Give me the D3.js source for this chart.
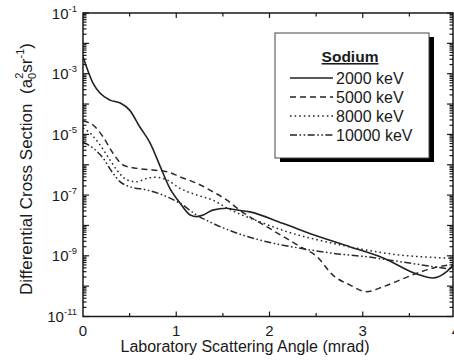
<!DOCTYPE html>
<html>
<head>
<meta charset="utf-8">
<script src="https://cdn.jsdelivr.net/npm/d3@7"></script>
<style>
  html, body { margin: 0; padding: 0; background: #fff; }
  svg { display: block; font-family: "Liberation Sans", Arial, sans-serif; }
  text { white-space: pre; }
</style>
</head>
<body>
<svg id="chart" width="454" height="362"></svg>
<script>
// ---- Data ----
const seriesNames = ["2000 keV", "5000 keV", "8000 keV", "10000 keV"];
const legendTitle = "Sodium";

const x2000 = [0, 0.107, 0.182, 0.29, 0.40, 0.50, 0.61, 0.72, 0.83, 0.93, 1.04, 1.15, 1.22, 1.29, 1.39, 1.54, 1.60, 1.79, 2.14, 2.51, 2.86, 3.22, 3.58, 3.75, 3.90, 4.0];
const y2000 = [3.6e-3, 4.9e-4, 2.3e-4, 1.35e-4, 1.08e-4, 6.3e-5, 1.75e-5, 5.2e-6, 8.5e-7, 1.7e-7, 5.5e-8, 2.2e-8, 1.95e-8, 2.2e-8, 3.2e-8, 3.7e-8, 3.4e-8, 2.8e-8, 1.18e-8, 4.5e-9, 2.0e-9, 8.5e-10, 2.5e-10, 1.85e-10, 3.0e-10, 6.3e-10];

const x5000 = [0, 0.107, 0.214, 0.32, 0.43, 0.58, 0.75, 0.90, 1.04, 1.22, 1.39, 1.54, 1.68, 1.97, 2.33, 2.51, 2.68, 2.86, 3.04, 3.22, 3.40, 3.58, 3.75, 4.0];
const y5000 = [2.75e-5, 2.04e-5, 8.4e-6, 2.44e-6, 9.8e-7, 7.6e-7, 6.7e-7, 5.9e-7, 4.0e-7, 2.45e-7, 1.3e-7, 6.9e-8, 3.2e-8, 9.1e-9, 2.0e-9, 9.3e-10, 2.3e-10, 1.1e-10, 6.6e-11, 9.6e-11, 1.6e-10, 2.65e-10, 3.9e-10, 5.4e-10];

const x8000 = [0, 0.075, 0.182, 0.29, 0.364, 0.472, 0.58, 0.686, 0.79, 0.90, 1.04, 1.22, 1.39, 1.55, 1.90, 2.19, 2.68, 3.04, 3.40, 3.75, 4.0];
const y8000 = [1.62e-5, 1.11e-5, 4.5e-6, 1.43e-6, 6.7e-7, 3.15e-7, 2.77e-7, 3.57e-7, 3.86e-7, 3.15e-7, 1.67e-7, 1.0e-7, 6.9e-8, 3.67e-8, 1.3e-8, 6.2e-9, 2.58e-9, 1.55e-9, 1.06e-9, 8.9e-10, 8.2e-10];

const x10000 = [0, 0.107, 0.214, 0.32, 0.397, 0.504, 0.686, 0.857, 1.04, 1.22, 1.39, 1.61, 1.97, 2.33, 2.68, 3.04, 3.40, 3.75, 4.0];
const y10000 = [5.6e-6, 3.56e-6, 1.67e-6, 5.35e-7, 2.77e-7, 1.89e-7, 1.47e-7, 1.0e-7, 5.4e-8, 2.2e-8, 1.18e-8, 6.2e-9, 2.9e-9, 1.77e-9, 1.21e-9, 9.3e-10, 6.4e-10, 4.4e-10, 3.4e-10];

const xTickValues = [0, 1, 2, 3, 4];
const xTickLabels = ["0", "1", "2", "3", "4"];
const yLabelExponents = [-1, -3, -5, -7, -9, -11];

// ---- Build series ----
const xs = [x2000, x5000, x8000, x10000];
const ys = [y2000, y5000, y8000, y10000];
const series = seriesNames.map((name, i) => ({
  name, points: xs[i].map((xv, j) => ({ x: xv, y: ys[i][j] }))
}));
const dashes = [null, "6,4", "1.6,3", "7,2.5,1.6,2.5,1.6,2.5"];

// ---- Layout ----
const svg = d3.select("#chart");
const mLeft = 83, mTop = 13, mBottom = 316.5, rightScale = 456, rightFrame = 453;
const x = d3.scaleLinear().domain([0, 4]).range([mLeft, rightScale]);
const y = d3.scaleLog().domain([1e-11, 1e-1]).range([mBottom, mTop]);
const ink = "#1a1a1a";

svg.append("defs").append("clipPath").attr("id", "clip")
  .append("rect").attr("x", mLeft).attr("y", mTop).attr("width", rightFrame - mLeft).attr("height", mBottom - mTop);

// ---- Curves ----
const line = d3.line().x(d => x(d.x)).y(d => y(d.y)).curve(d3.curveMonotoneX);
svg.append("g").attr("clip-path", "url(#clip)")
  .selectAll("path").data(series).join("path")
  .attr("d", d => line(d.points))
  .attr("fill", "none")
  .attr("stroke", (d, i) => i === 0 ? "#222" : "#2a2a2a")
  .attr("stroke-width", (d, i) => i === 0 ? 1.6 : 1.5)
  .attr("stroke-dasharray", (d, i) => dashes[i]);

// ---- Frame ----
svg.append("path")
  .attr("d", `M${mLeft},${mTop}H${rightFrame}V${mBottom}H${mLeft}Z`)
  .attr("fill", "none").attr("stroke", ink).attr("stroke-width", 1.5);

// ---- Ticks ----
const tickG = svg.append("g").attr("stroke", ink).attr("stroke-width", 1.2);
for (let e = -11; e <= -1; e++) {
  for (let m = 1; m <= 9; m++) {
    const v = m * Math.pow(10, e);
    if (v > 1e-1 * 1.0001) continue;
    const yy = y(v);
    const len = m === 1 ? 6 : 3.5;
    tickG.append("line").attr("x1", mLeft).attr("x2", mLeft + len).attr("y1", yy).attr("y2", yy);
    tickG.append("line").attr("x1", rightFrame).attr("x2", rightFrame - len).attr("y1", yy).attr("y2", yy);
  }
}
d3.range(0.5, 4, 0.5).forEach(v => {
  const xx = x(v);
  const len = Number.isInteger(v) ? 5 : 3.5;
  tickG.append("line").attr("x1", xx).attr("x2", xx).attr("y1", mBottom).attr("y2", mBottom - len);
  tickG.append("line").attr("x1", xx).attr("x2", xx).attr("y1", mTop).attr("y2", mTop + len);
});

// ---- Tick labels ----
svg.append("g").selectAll("text").data(xTickValues).join("text")
  .attr("x", d => x(d)).attr("y", 336)
  .attr("text-anchor", "middle").attr("font-size", 15).attr("fill", ink)
  .text((d, i) => xTickLabels[i]);

const yl = svg.append("g").attr("fill", ink);
yLabelExponents.forEach(e => {
  const t = yl.append("text").attr("x", 77).attr("y", y(Math.pow(10, e)) + 5.5)
    .attr("text-anchor", "end").attr("font-size", 15);
  t.append("tspan").text("10");
  t.append("tspan").attr("dy", -7).attr("font-size", 9.5).text(String(e));
});

// ---- Axis titles ----
svg.append("text").attr("x", 245).attr("y", 352)
  .attr("text-anchor", "middle").attr("font-size", 16).attr("fill", ink)
  .text("Laboratory Scattering Angle (mrad)");

const yt = svg.append("text").attr("transform", "translate(32,169) rotate(-90)")
  .attr("text-anchor", "middle").attr("font-size", 17).attr("fill", ink);
yt.append("tspan").text("Differential Cross Section  (a");
yt.append("tspan").attr("dy", 4).attr("font-size", 11).text("0");
yt.append("tspan").attr("dx", -6).attr("dy", -13).attr("font-size", 11).text("2");
yt.append("tspan").attr("dy", 9).text("sr");
yt.append("tspan").attr("dy", -8).attr("font-size", 11).text("-1");
yt.append("tspan").attr("dy", 8).text(")");

// ---- Legend ----
const lg = svg.append("g");
const bx = 275, by = 33, bw = 154, bh = 125;
lg.append("rect").attr("x", bx + 5).attr("y", by + 4).attr("width", bw).attr("height", bh).attr("fill", "#000");
lg.append("rect").attr("x", bx).attr("y", by).attr("width", bw).attr("height", bh)
  .attr("fill", "#fff").attr("stroke", "#444").attr("stroke-width", 1);
lg.append("text").attr("x", 350).attr("y", 62).attr("text-anchor", "middle")
  .attr("font-size", 15.5).attr("font-weight", "bold").attr("fill", ink)
  .attr("text-decoration", "underline").text(legendTitle);
const rowY = [83.5, 102.5, 121.5, 140.5];
series.forEach((s, i) => {
  lg.append("line").attr("x1", 290).attr("x2", 333).attr("y1", rowY[i] - 5.5).attr("y2", rowY[i] - 5.5)
    .attr("stroke", "#222").attr("stroke-width", 1.5).attr("stroke-dasharray", dashes[i]);
  lg.append("text").attr("x", 336).attr("y", rowY[i]).attr("font-size", 16).attr("fill", ink).text(s.name);
});
</script>
</body>
</html>
